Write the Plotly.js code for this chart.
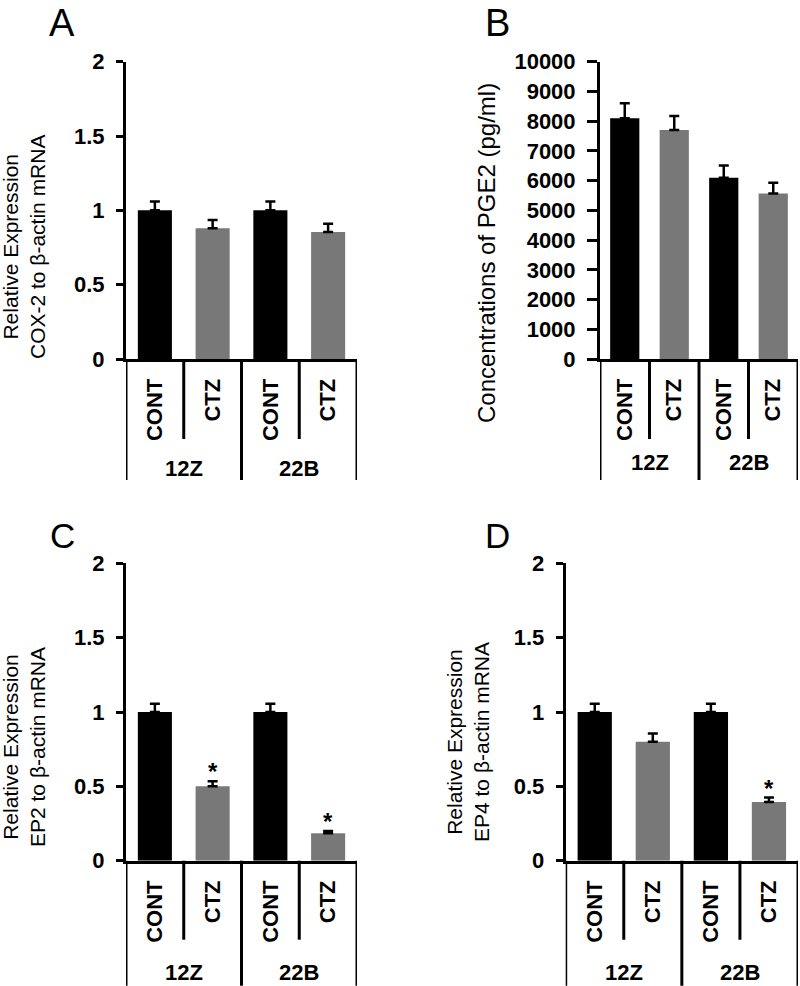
<!DOCTYPE html>
<html>
<head>
<meta charset="utf-8">
<script src="https://cdn.plot.ly/plotly-3.0.1.min.js"></script>
<style>html,body{margin:0;padding:0;background:#fff;}#chart{width:800px;height:986px;}</style>
</head>
<body>
<div id="chart"></div>
<script>
// ---- data ----
const categories = ['CONT', 'CTZ', 'CONT', 'CTZ'];
const groupLabels = ['12Z', '22B'];
const groupOf = [0, 0, 1, 1];

const cox2 = [1.00, 0.88, 1.00, 0.855];
const cox2Err = [0.06, 0.055, 0.06, 0.055];

const pge2 = [8100, 7700, 6100, 5570];
const pge2Err = [500, 470, 410, 360];

const ep2 = [1.00, 0.50, 1.00, 0.185];
const ep2Err = [0.055, 0.035, 0.055, 0.015];
const ep2Sig = ['', '*', '', '*'];

const ep4 = [1.00, 0.80, 1.00, 0.395];
const ep4Err = [0.055, 0.055, 0.055, 0.03];
const ep4Sig = ['', '', '', '*'];

const panelLetters = ['A', 'B', 'C', 'D'];

// ---- styles ----
const FONT = 'Liberation Sans, Arial, sans-serif';
const barColors = ['#000000', '#787878', '#000000', '#787878'];
const W = 800, H = 986;
const px = v => v / W;
const py = v => 1 - v / H;

const xIdx = categories.map((_, i) => i);

const panels = [
  {vals: cox2, errs: cox2Err, sig: null, range: [0, 2], dtick: 0.5, ticklen: 7,
   xdom: [126, 357], ydom: [359, 61.7], longDrop: 121, shortDrop: 80, groupY: 468,
   title: 'Relative Expression<br>COX-2 to β-actin mRNA', titleX: 24, titleY: 247, titleSize: 21,
   letterX: 62, letterTop: 0, letterSize: 38},
  {vals: pge2, errs: pge2Err, sig: null, range: [0, 10000], dtick: 1000, ticklen: 10,
   xdom: [600, 798], ydom: [359, 61.7], longDrop: 121, shortDrop: 80, groupY: 462,
   title: 'Concentrations of PGE2 (pg/ml)', titleX: 486, titleY: 253, titleSize: 24,
   letterX: 497, letterTop: 0, letterSize: 38},
  {vals: ep2, errs: ep2Err, sig: ep2Sig, range: [0, 2], dtick: 0.5, ticklen: 7,
   xdom: [126, 357], ydom: [860.7, 563.3], longDrop: 125, shortDrop: 79, groupY: 972,
   title: 'Relative Expression<br>EP2 to β-actin mRNA', titleX: 24, titleY: 747, titleSize: 21,
   letterX: 62, letterTop: 514, letterSize: 35},
  {vals: ep4, errs: ep4Err, sig: ep4Sig, range: [0, 2], dtick: 0.5, ticklen: 7,
   xdom: [565.7, 798], ydom: [860.7, 563.3], longDrop: 125, shortDrop: 79, groupY: 972,
   title: 'Relative Expression<br>EP4 to β-actin mRNA', titleX: 468, titleY: 742, titleSize: 21,
   letterX: 497, letterTop: 514, letterSize: 35}
];

const traces = [];
const layout = {
  width: W, height: H,
  margin: {l: 0, r: 0, t: 0, b: 0},
  paper_bgcolor: '#ffffff', plot_bgcolor: 'rgba(0,0,0,0)',
  showlegend: false,
  bargap: 0.41,
  font: {family: FONT, color: '#000'},
  shapes: [], annotations: []
};

panels.forEach((p, k) => {
  const n = k === 0 ? '' : String(k + 1);
  const xa = 'x' + n, ya = 'y' + n;
  traces.push({
    type: 'bar', x: xIdx, y: p.vals, xaxis: xa, yaxis: ya,
    width: 0.59,
    marker: {color: barColors, line: {width: 0}},
    error_y: {type: 'data', symmetric: false, array: p.errs,
              arrayminus: p.errs.map(() => 0), color: '#000', thickness: 2.5, width: 5},
    hoverinfo: 'skip'
  });
  layout['xaxis' + n] = {
    domain: [px(p.xdom[0]), px(p.xdom[1])], anchor: ya,
    range: [-0.5, 3.5], showgrid: false, zeroline: false,
    showline: true, linecolor: '#000', linewidth: 3,
    tickmode: 'array', tickvals: xIdx, ticktext: categories,
    tickangle: -90, ticks: '',
    tickfont: {family: FONT, size: 22, color: '#000', weight: 'bold'},
    ticklabelstandoff: 8
  };
  layout['yaxis' + n] = {
    domain: [py(p.ydom[0]), py(p.ydom[1])], anchor: xa,
    range: p.range, dtick: p.dtick, tick0: 0, tickformat: 'd',
    showgrid: false, zeroline: false,
    showline: true, linecolor: '#000', linewidth: 3,
    ticks: 'outside', ticklen: p.ticklen, tickwidth: 3, tickcolor: '#000',
    tickfont: {family: FONT, size: 22, color: '#000', weight: 'bold'},
    ticklabelstandoff: 7
  };
  if (p.dtick < 1) layout['yaxis' + n].tickformat = '';
  // dividers under the category axis
  const yb = py(p.ydom[0]);
  const bounds = [-0.5, 0.5, 1.5, 2.5, 3.5];
  bounds.forEach(b => {
    const isGroupEdge = (b === -0.5 || b === 3.5 || groupOf[Math.floor(b)] !== groupOf[Math.ceil(b)]);
    const drop = isGroupEdge ? p.longDrop : p.shortDrop;
    layout.shapes.push({
      type: 'line', xref: xa, yref: 'paper', x0: b, x1: b,
      y0: yb, y1: py(p.ydom[0] + drop),
      line: {color: '#000', width: 3}
    });
  });
  // group labels
  groupLabels.forEach((g, gi) => {
    const members = xIdx.filter(i => groupOf[i] === gi);
    const cx = members.reduce((a, b) => a + b, 0) / members.length;
    layout.annotations.push({
      xref: xa, yref: 'paper', x: cx, y: py(p.groupY),
      text: g, showarrow: false, xanchor: 'center', yanchor: 'middle',
      font: {family: FONT, size: 22, color: '#000', weight: 'bold'}
    });
  });
  // significance stars
  if (p.sig) {
    p.sig.forEach((s, i) => {
      if (!s) return;
      layout.annotations.push({
        xref: xa, yref: ya, x: i, y: p.vals[i] + p.errs[i],
        text: s, showarrow: false, xanchor: 'center', yanchor: 'bottom', yshift: -6,
        font: {family: FONT, size: 24, color: '#000', weight: 'bold'}
      });
    });
  }
  // y titles
  layout.annotations.push({
    xref: 'paper', yref: 'paper', x: px(p.titleX), y: py(p.titleY),
    text: p.title, showarrow: false, textangle: -90,
    xanchor: 'center', yanchor: 'middle',
    font: {family: FONT, size: p.titleSize, color: '#000'}
  });
  // panel letters
  layout.annotations.push({
    xref: 'paper', yref: 'paper', x: px(p.letterX), y: py(p.letterTop),
    text: panelLetters[k], showarrow: false, xanchor: 'center', yanchor: 'top',
    font: {family: FONT, size: p.letterSize, color: '#000'}
  });
});

Plotly.newPlot('chart', traces, layout, {staticPlot: true, displayModeBar: false});
</script>
</body>
</html>
